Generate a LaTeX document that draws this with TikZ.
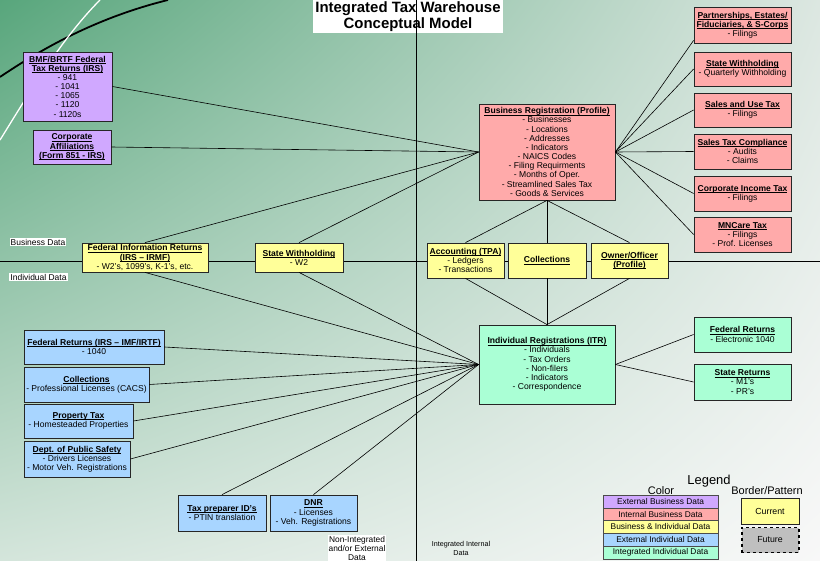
\documentclass[tikz,border=0pt]{standalone}
\usepackage{fontspec}
\setmainfont{Liberation Sans}
\usetikzlibrary{shadings}
\newsavebox{\headbox}
\newcommand{\boxhead}[1]{\sbox{\headbox}{\textbf{#1}}\rlap{\rule[-1.3pt]{\wd\headbox}{0.5pt}}\usebox{\headbox}}
\definecolor{extbus}{HTML}{D0A8FF}
\definecolor{intbus}{HTML}{FFAAAA}
\definecolor{busind}{HTML}{FFFF99}
\definecolor{extind}{HTML}{A8D5FF}
\definecolor{intind}{HTML}{AAFFD5}
\definecolor{bgtl}{RGB}{88,166,124}
\definecolor{bgtr}{RGB}{220,231,225}
\definecolor{bgbl}{RGB}{212,229,219}
\definecolor{bgbr}{RGB}{248,248,248}
\begin{document}
\begin{tikzpicture}[x=1bp,y=-1bp,
  box/.style={draw=black!85, line width=0.8pt, align=center, inner sep=1bp,
    font=\fontsize{8.6}{9.2}\selectfont},
  link/.style={draw=black, line width=0.6pt},
  note/.style={align=center, inner sep=1bp, font=\fontsize{8.5}{10}\selectfont}
]
\useasboundingbox (0,0) rectangle (820,561);
% background of the slide
\shade[upper left=bgtl, upper right=bgtr, lower left=bgbl, lower right=bgbr]
  (0,0) rectangle (820,561);
\draw[black, line width=1.8pt] (0,77) .. controls (40,50) and (95,18) .. (168,0);
\draw[white, line width=1.3pt] (0,140) .. controls (25,100) and (60,40) .. (100,0);

% title
\node[fill=white, minimum width=190bp, minimum height=33bp, inner sep=0pt, align=center,
  font=\fontsize{15}{15.5}\selectfont\bfseries] (title) at (408,16.5) {Integrated Tax Warehouse\\Conceptual Model};

% dividers
\draw[line width=0.8pt] (416,0) -- (416,561);
\draw[line width=0.8pt] (0,261) -- (820,261);

% external business data
\node[box, fill=extbus, minimum width=89bp, minimum height=69bp] (bmf) at (67.5,86.5)
  {\boxhead{BMF/BRTF Federal}\\\boxhead{Tax Returns (IRS)}\\- 941\\- 1041\\- 1065\\- 1120\\- 1120s};
\node[box, fill=extbus, minimum width=78bp, minimum height=34bp] (corp) at (72,147)
  {\boxhead{Corporate}\\\boxhead{Affiliations}\\\boxhead{(Form 851 - IRS)}};

% internal business data
\node[box, fill=intbus, minimum width=136bp, minimum height=96bp] (busreg) at (547,152)
  {\boxhead{Business Registration (Profile)}\\- Businesses\\- Locations\\- Addresses\\- Indicators\\- NAICS Codes\\- Filing Requirments\\- Months of Oper.\\- Streamlined Sales Tax\\- Goods \& Services};
\node[box, fill=intbus, minimum width=97bp, minimum height=36bp] (partner) at (742.5,25)
  {\boxhead{Partnerships, Estates/}\\\boxhead{Fiduciaries, \& S-Corps}\\- Filings};
\node[box, fill=intbus, minimum width=97bp, minimum height=34bp] (statewh) at (742.5,69)
  {\boxhead{State Withholding}\\- Quarterly Withholding};
\node[box, fill=intbus, minimum width=97bp, minimum height=34bp] (salesuse) at (742.5,110)
  {\boxhead{Sales and Use Tax}\\- Filings};
\node[box, fill=intbus, minimum width=97bp, minimum height=35bp] (salescomp) at (742.5,151.5)
  {\boxhead{Sales Tax Compliance}\\- Audits\\- Claims};
\node[box, fill=intbus, minimum width=97bp, minimum height=35bp] (corpinc) at (742.5,193.5)
  {\boxhead{Corporate Income Tax}\\- Filings};
\node[box, fill=intbus, minimum width=97bp, minimum height=35bp] (mncare) at (742.5,234.5)
  {\boxhead{MNCare Tax}\\- Filings\\- Prof. Licenses};

% business and individual data
\node[box, fill=busind, minimum width=126bp, minimum height=29bp] (fedinfo) at (145,257.5)
  {\boxhead{Federal Information Returns}\\\boxhead{(IRS -- IRMF)}\\- W2's, 1099's, K-1's, etc.};
\node[box, fill=busind, minimum width=88bp, minimum height=29bp] (w2) at (299,257.5)
  {\boxhead{State Withholding}\\- W2};
\node[box, fill=busind, minimum width=77bp, minimum height=35bp] (tpa) at (465.5,260.5)
  {\boxhead{Accounting (TPA)}\\- Ledgers\\- Transactions};
\node[box, fill=busind, minimum width=78bp, minimum height=35bp] (collect) at (547,260.5)
  {\boxhead{Collections}};
\node[box, fill=busind, minimum width=77bp, minimum height=35bp] (owner) at (629.5,260.5)
  {\boxhead{Owner/Officer}\\\boxhead{(Profile)}};

% integrated individual data
\node[box, fill=intind, minimum width=136bp, minimum height=79bp] (indreg) at (547,364.5)
  {\boxhead{Individual Registrations (ITR)}\\- Individuals\\- Tax Orders\\- Non-filers\\- Indicators\\- Correspondence};
\node[box, fill=intind, minimum width=97bp, minimum height=35bp] (fedret) at (742.5,334.5)
  {\boxhead{Federal Returns}\\- Electronic 1040};
\node[box, fill=intind, minimum width=97bp, minimum height=36bp] (stateret) at (742.5,382)
  {\boxhead{State Returns}\\- M1's\\- PR's};

% external individual data
\node[box, fill=extind, minimum width=140bp, minimum height=34bp] (imf) at (94,347)
  {\boxhead{Federal Returns (IRS -- IMF/IRTF)}\\- 1040};
\node[box, fill=extind, minimum width=125bp, minimum height=35bp] (cacs) at (86.5,384.5)
  {\boxhead{Collections}\\- Professional Licenses (CACS)};
\node[box, fill=extind, minimum width=109bp, minimum height=34bp] (proptax) at (78.5,421)
  {\boxhead{Property Tax}\\- Homesteaded Properties};
\node[box, fill=extind, minimum width=106bp, minimum height=36bp] (dps) at (77,459)
  {\boxhead{Dept. of Public Safety}\\- Drivers Licenses\\- Motor Veh. Registrations};
\node[box, fill=extind, minimum width=88bp, minimum height=36bp] (ptin) at (222,513)
  {\boxhead{Tax preparer ID's}\\- PTIN translation};
\node[box, fill=extind, minimum width=87bp, minimum height=36bp] (dnr) at (313.5,513)
  {\boxhead{DNR}\\- Licenses\\- Veh. Registrations};

% connectors to the business registration
\foreach \src in {bmf.east, corp.east, fedinfo.north, w2.north}
  \draw[link] (\src) -- (busreg.west);
\draw[link] (busreg.east) -- ([yshift=3bp]partner.south west);
\foreach \dst in {statewh, salesuse, salescomp, corpinc, mncare}
  \draw[link] (busreg.east) -- (\dst.west);
\foreach \mid in {tpa, collect, owner} {
  \draw[link] (busreg.south) -- (\mid.north);
  \draw[link] (indreg.north) -- (\mid.south);
}
% connectors to the individual registration
\foreach \src in {fedinfo.south, w2.south, imf.east, cacs.east, proptax.east, dps.east, ptin.north, dnr.north}
  \draw[link] (\src) -- (indreg.west);
\draw[link] (indreg.east) -- (fedret.west);
\draw[link] (indreg.east) -- (stateret.west);

% area labels
\node[note, fill=white] (busdata) at (38,242) {Business Data};
\node[note, fill=white] (inddata) at (38.5,277) {Individual Data};
\node[note, fill=white, font=\fontsize{8.4}{9.4}\selectfont] (nonint) at (357,548.5) {Non-Integrated\\and/or External\\Data};
\node[note, font=\fontsize{7.2}{8.2}\selectfont] (intint) at (461,548.5) {Integrated Internal\\Data};

% legend
\node[font=\fontsize{13}{14}\selectfont] (legend) at (709,481) {Legend};
\node[font=\fontsize{11}{12}\selectfont] (colorhd) at (661,491) {Color};
\node[font=\fontsize{11}{12}\selectfont] (borderhd) at (767,491) {Border/Pattern};
\foreach \fillc/\txt [count=\i] in {extbus/External Business Data, intbus/Internal Business Data,
    busind/Business \& Individual Data, extind/External Individual Data, intind/Integrated Individual Data}
  \node[draw=black!70, line width=0.5pt, fill=\fillc, minimum width=115bp, minimum height=12.8bp, inner sep=0pt,
    font=\fontsize{8.4}{9}\selectfont] (leg\i) at (660.5,495+12.8*\i-6.4) {\txt};
\node[draw=black!85, line width=0.8pt, fill=busind, minimum width=58bp, minimum height=26bp, inner sep=0pt,
  font=\fontsize{8.8}{9}\selectfont] (current) at (770,511) {Current};
\node[draw=black, dashed, line width=2pt, fill=black!25, minimum width=57bp, minimum height=25bp, inner sep=0pt,
  font=\fontsize{8.8}{9}\selectfont] (future) at (770,540) {Future};
\end{tikzpicture}
\end{document}
